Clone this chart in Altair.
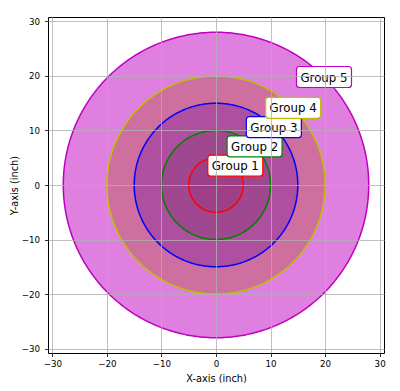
import numpy as np
import pandas as pd
import altair as alt

groups = ["Group 1", "Group 2", "Group 3", "Group 4", "Group 5"]
radii = [5, 10, 15, 20, 28]
colors = ["#ff0000", "#008000", "#0000ff", "#bfbf00", "#bf00bf"]
tick_values = [-30, -20, -10, 0, 10, 20, 30]
axis_limit = 30.8

FONT = "DejaVu Sans"

xs = alt.Scale(domain=[-axis_limit, axis_limit], nice=False, zero=False)
ys = alt.Scale(domain=[-axis_limit, axis_limit], nice=False, zero=False)

x_axis = alt.Axis(values=tick_values, title="X-axis (inch)", grid=True, zindex=1,
                  gridColor="#b0b0b0", gridWidth=0.8, domain=False,
                  tickColor="black", tickSize=3.5, tickWidth=0.8,
                  labelFont=FONT, labelFontSize=8.7, labelColor="black", labelPadding=3,
                  titleFont=FONT, titleFontSize=9.8, titleFontWeight="normal",
                  titleColor="black", titlePadding=5)
y_axis = alt.Axis(values=tick_values, title="Y-axis (inch)", grid=True, zindex=1,
                  gridColor="#b0b0b0", gridWidth=0.8, domain=False,
                  tickColor="black", tickSize=3.5, tickWidth=0.8,
                  labelFont=FONT, labelFontSize=8.7, labelColor="black", labelPadding=5,
                  titleFont=FONT, titleFontSize=9.8, titleFontWeight="normal",
                  titleColor="black", titlePadding=2)

t_half = np.linspace(0, np.pi, 181)
t_full = np.linspace(0, 2 * np.pi, 361)

layers = []
# filled discs, smallest first, each half transparent
for g, r, c in zip(groups, radii, colors):
    df = pd.DataFrame({
        "x": r * np.cos(t_half),
        "y": r * np.sin(t_half),
        "y2": -r * np.sin(t_half),
    })
    layers.append(
        alt.Chart(df).mark_area(color=c, opacity=0.5).encode(
            x=alt.X("x:Q", scale=xs, axis=x_axis),
            y=alt.Y("y:Q", scale=ys, axis=y_axis),
            y2="y2:Q",
        )
    )
# circle outlines
for g, r, c in zip(groups, radii, colors):
    df = pd.DataFrame({
        "i": np.arange(len(t_full)),
        "x": r * np.cos(t_full),
        "y": r * np.sin(t_full),
    })
    layers.append(
        alt.Chart(df).mark_line(color=c, strokeWidth=1.5).encode(
            x=alt.X("x:Q", scale=xs),
            y=alt.Y("y:Q", scale=ys),
            order="i:Q",
        )
    )

labels = pd.DataFrame({
    "group": groups,
    "x": [r * np.cos(np.pi / 4) for r in radii],
    "y": [r * np.sin(np.pi / 4) for r in radii],
    "color": colors,
})
boxes = alt.Chart(labels).mark_rect(width=55, height=21, cornerRadius=3, fill="white",
                                    strokeWidth=1.2).encode(
    x=alt.X("x:Q", scale=xs),
    y=alt.Y("y:Q", scale=ys),
    stroke=alt.Stroke("color:N", scale=None),
)
texts = alt.Chart(labels).mark_text(font=FONT, fontSize=11.8, color="black",
                                    align="center", baseline="middle", dy=0.5).encode(
    x=alt.X("x:Q", scale=xs),
    y=alt.Y("y:Q", scale=ys),
    text="group:N",
)
layers += [boxes, texts]

chart = alt.layer(*layers).properties(
    width=336, height=336,
    padding={"left": 40, "top": 9, "right": 8, "bottom": 30},
    autosize=alt.AutoSizeParams(type="none"),
    background="white",
).configure_view(stroke="black", strokeWidth=1)

chart.save("out.html", embed_options={"renderer": "svg", "actions": False})
